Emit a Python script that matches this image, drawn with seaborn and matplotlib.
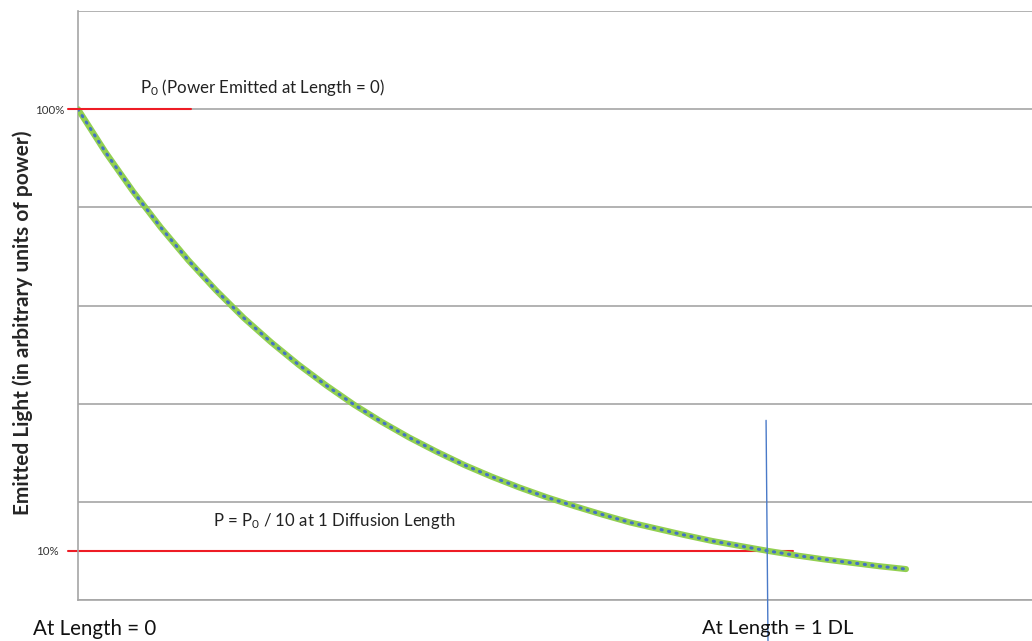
import matplotlib
matplotlib.use("Agg")
import matplotlib.pyplot as plt
import seaborn as sns
import pandas as pd

# Emitted light along the length (x in fifths of a diffusion length)
length = [0.0, 0.2, 0.4, 0.6, 0.8, 1.0, 1.2, 1.4, 1.6, 1.8, 2.0,
          2.2, 2.4, 2.6, 2.8, 3.0, 3.2, 3.4, 3.6, 3.8, 4.0,
          4.2, 4.4, 4.6, 4.8, 5.0, 5.2, 5.4, 5.6, 5.8, 6.0]
power = [100.0, 91.2, 83.2, 75.9, 69.2, 63.1, 57.5, 52.5, 47.9, 43.7, 39.8,
         36.3, 33.1, 30.2, 27.5, 25.1, 22.9, 20.9, 19.1, 17.4, 15.8,
         14.5, 13.2, 12.0, 11.0, 10.0, 9.1, 8.3, 7.6, 6.9, 6.3]

p0_level = 100
p_dl_level = 10
dl_position = 5

df = pd.DataFrame({"length": length, "power": power})

sns.set_style("white")
plt.rcParams["font.family"] = ["Lato", "DejaVu Sans"]
plt.rcParams["mathtext.fontset"] = "custom"
plt.rcParams["mathtext.rm"] = "Lato"
plt.rcParams["mathtext.it"] = "Lato"

fig = plt.figure(figsize=(10.32, 6.41), dpi=100)
ax = fig.add_axes([78 / 1032, 41 / 641, (1032 - 78) / 1032, (600 - 11) / 641])

grid_col = "#a6a6a6"

# curve: thick green line with blue dotted overlay
sns.lineplot(data=df, x="length", y="power", ax=ax, color="#92d050",
             linewidth=4.4, zorder=3)
sns.lineplot(data=df, x="length", y="power", ax=ax, color="#4472c4",
             linewidth=2.2, linestyle=(0, (0.4, 2.1)), dash_capstyle="round",
             zorder=4)

ax.set_xlim(0, (1032 - 78) / 138)
ax.set_ylim(0, 120)
ax.set_xlabel("")

# reference lines
ax.plot([-0.075, 0.82], [p0_level, p0_level], color="#ee1c25", lw=1.5,
        clip_on=False, zorder=5)
ax.plot([-0.075, 5.18], [p_dl_level, p_dl_level], color="#ee1c25", lw=1.5,
        clip_on=False, zorder=2)
ax.plot([dl_position - 0.014, dl_position], [36.6, -8.4], color="#4a7ac8",
        lw=1.0, clip_on=False, zorder=6)

# axes styling
ax.set_yticks([0, 20, 40, 60, 80, 100, 120])
ax.set_yticklabels(["", "", "", "", "", "100%", ""])
ax.set_yticks([p_dl_level], minor=True)
ax.set_yticklabels(["10%"], minor=True)
ax.tick_params(axis="y", which="major", length=4, color=grid_col, width=1.2,
               labelsize=8.3, labelcolor="#333333", pad=27.3)
ax.tick_params(axis="y", which="minor", length=0, labelsize=8.3,
               labelcolor="#333333", pad=30.2)
for lab in ax.get_yticklabels(which="both"):
    lab.set_horizontalalignment("left")
ax.set_xticks(range(0, 7))
ax.set_xticklabels([""] * 7)
ax.tick_params(axis="x", length=4, color=grid_col, width=1.2)
ax.yaxis.grid(True, which="major", color=grid_col, lw=1.2)
ax.xaxis.grid(False)
ax.set_axisbelow(True)
for side in ["top", "right"]:
    ax.spines[side].set_visible(False)
for side in ["left", "bottom"]:
    ax.spines[side].set_color(grid_col)
    ax.spines[side].set_linewidth(1.2)

ax.set_ylabel("Emitted Light (in arbitrary units of power)", fontsize=15,
              fontweight="bold")
ax.yaxis.set_label_coords(-45 / 954, (600 - 323) / 589)

# annotations
ax.text(0.45, 103.2, r"P$_{0}$ (Power Emitted at Length = 0)", fontsize=12.2,
        color="#222222")
ax.text(0.98, 15.1, r"P = P$_{0}$ / 10 at 1 Diffusion Length", fontsize=12.1,
        color="#222222")
fig.text(33 / 1032, 1 - 635 / 641, "At Length = 0", fontsize=14.8,
         color="#111111")
fig.text(702 / 1032, 1 - 634 / 641, "At Length = 1 DL", fontsize=14.5,
         color="#111111")

fig.savefig("out.png", dpi=100)
